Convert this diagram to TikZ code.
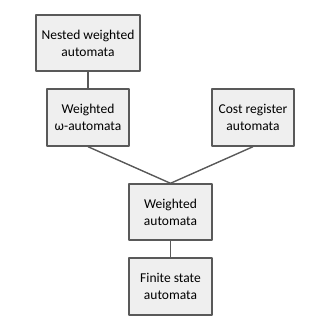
\documentclass[tikz,border=0pt]{standalone}
\usepackage{fontspec}
\setmainfont{Carlito}
\usepackage{tikz}

\definecolor{boxfill}{HTML}{EFEFEF}
\definecolor{boxline}{HTML}{595959}

\begin{document}
\begin{tikzpicture}[x=1pt,y=-1pt,line join=round,
  family/.style={draw=boxline,fill=boxfill,line width=1.4pt,inner sep=0pt,
    align=center,font=\fontsize{13.5}{17}\selectfont},
  link/.style={draw=boxline,line width=1.4pt}]

\useasboundingbox (0,0) rectangle (330,330);

%% ---------------- the boxes ----------------
\node[family,minimum width=104pt,minimum height=56pt] (nested) at (88,43)
  {Nested weighted\\automata};
\node[family,minimum width=82pt,minimum height=57pt] (omega) at (88,117.5)
  {Weighted\\ω-automata};
\node[family,minimum width=82pt,minimum height=57pt] (cost) at (253,117.5)
  {Cost register\\automata};
\node[family,minimum width=83pt,minimum height=56pt] (weighted) at (170.5,212)
  {Weighted\\automata};
\node[family,minimum width=83pt,minimum height=57pt] (finite) at (170.5,286.5)
  {Finite state\\automata};

%% ---------------- the links ----------------
\draw[link] (nested) -- (omega);
\draw[link] (omega.south) -- (weighted.north);
\draw[link] (cost.south) -- (weighted.north);
\draw[link] (weighted) -- (finite);

\end{tikzpicture}
\end{document}
